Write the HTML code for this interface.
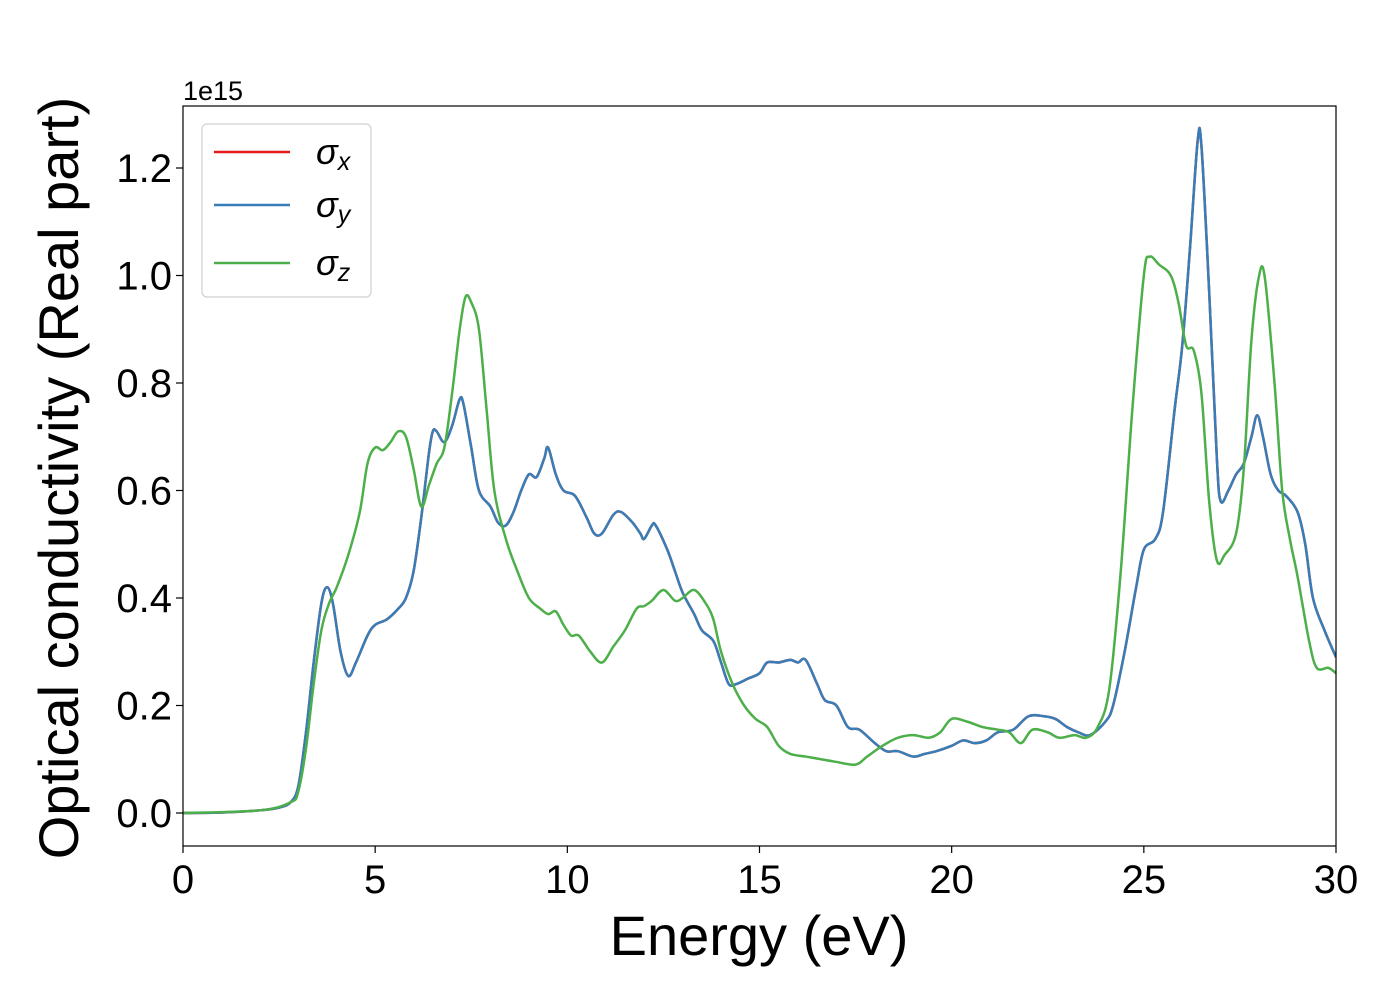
<!DOCTYPE html>
<html><head><meta charset="utf-8">
<style>
body{margin:0;background:#fff;}
svg{display:block;font-family:"Liberation Sans","DejaVu Sans",sans-serif;}
</style></head>
<body>
<svg id="chart" width="1400" height="1000" xmlns="http://www.w3.org/2000/svg">
<g id="plot"></g>
</svg>
<script>
const xTicks=[0,5,10,15,20,25,30];
const yTicks=[0,0.2,0.4,0.6,0.8,1.0,1.2];
const yTickLabels=["0.0","0.2","0.4","0.6","0.8","1.0","1.2"];
const energyXY=[0,1,2,2.5,2.8,3.0,3.2,3.4,3.6,3.75,3.9,4.1,4.3,4.5,4.8,5.0,5.3,5.6,5.8,6.0,6.2,6.4,6.5,6.6,6.8,7.0,7.2,7.3,7.5,7.7,8.0,8.2,8.4,8.6,8.8,9.0,9.2,9.4,9.5,9.7,9.9,10.2,10.5,10.7,10.9,11.2,11.4,11.7,11.9,12.0,12.2,12.3,12.6,12.8,13.0,13.3,13.5,13.8,14.0,14.2,14.4,14.7,15.0,15.2,15.5,15.8,16.0,16.2,16.5,16.7,17.0,17.3,17.6,18.0,18.3,18.6,19.0,19.3,19.6,20.0,20.3,20.6,20.9,21.2,21.6,22.0,22.4,22.7,23.0,23.3,23.6,24.0,24.2,24.5,24.8,25.0,25.3,25.5,25.8,26.0,26.2,26.4,26.5,26.7,26.9,27.0,27.2,27.4,27.6,27.8,27.95,28.1,28.3,28.5,28.7,29.0,29.2,29.4,29.7,30.0];
const sigmaXY=[0,0.001,0.005,0.01,0.02,0.05,0.15,0.28,0.39,0.42,0.39,0.3,0.255,0.28,0.33,0.35,0.36,0.38,0.40,0.45,0.55,0.67,0.71,0.71,0.69,0.72,0.77,0.76,0.68,0.60,0.57,0.54,0.535,0.56,0.6,0.63,0.625,0.66,0.68,0.63,0.60,0.59,0.55,0.52,0.52,0.555,0.56,0.54,0.52,0.51,0.535,0.535,0.49,0.45,0.41,0.37,0.34,0.32,0.28,0.24,0.24,0.25,0.26,0.28,0.28,0.285,0.28,0.285,0.24,0.21,0.2,0.16,0.155,0.13,0.115,0.115,0.105,0.11,0.115,0.125,0.135,0.13,0.135,0.15,0.155,0.18,0.18,0.175,0.16,0.15,0.145,0.17,0.2,0.3,0.42,0.49,0.51,0.56,0.75,0.87,1.05,1.25,1.24,0.97,0.66,0.58,0.6,0.63,0.65,0.7,0.74,0.7,0.63,0.6,0.59,0.56,0.5,0.4,0.34,0.29];
const energyZ=[0,2,2.8,3.0,3.2,3.4,3.6,3.8,4.0,4.3,4.6,4.8,5.0,5.2,5.4,5.6,5.8,6.0,6.2,6.4,6.6,6.8,7.0,7.2,7.35,7.5,7.7,7.9,8.1,8.4,8.7,9.0,9.3,9.5,9.7,9.9,10.1,10.3,10.6,10.9,11.2,11.5,11.8,12.0,12.2,12.5,12.8,13.0,13.3,13.6,13.8,14.0,14.3,14.6,14.9,15.2,15.5,15.8,16.2,16.6,17.0,17.5,17.8,18.2,18.6,19.0,19.4,19.7,20.0,20.4,20.8,21.2,21.5,21.8,22.1,22.5,22.8,23.2,23.5,23.8,24.1,24.4,24.7,25.0,25.15,25.4,25.7,25.9,26.1,26.3,26.5,26.7,26.9,27.1,27.4,27.6,27.8,28.0,28.15,28.4,28.6,28.8,29.0,29.3,29.5,29.8,30.0];
const sigmaZ=[0,0.005,0.02,0.04,0.12,0.24,0.34,0.39,0.42,0.48,0.56,0.65,0.68,0.675,0.69,0.71,0.70,0.64,0.57,0.61,0.65,0.68,0.78,0.9,0.96,0.95,0.9,0.75,0.6,0.51,0.45,0.4,0.38,0.37,0.375,0.35,0.33,0.33,0.3,0.28,0.31,0.34,0.38,0.385,0.395,0.415,0.395,0.40,0.415,0.39,0.36,0.3,0.24,0.2,0.175,0.16,0.125,0.11,0.105,0.1,0.095,0.09,0.105,0.125,0.14,0.145,0.14,0.15,0.175,0.17,0.16,0.155,0.15,0.13,0.155,0.15,0.14,0.145,0.14,0.16,0.23,0.45,0.75,1.0,1.035,1.02,1.0,0.95,0.87,0.86,0.78,0.58,0.47,0.48,0.52,0.64,0.88,1.0,0.995,0.8,0.6,0.51,0.44,0.32,0.27,0.27,0.26];

const L=183,R=1336,T=106,B=846;
const X=v=>L+(v-0)/30*(R-L);
const Y=v=>813-v/1.2*(813-168);
const NS="http://www.w3.org/2000/svg";
const svg=document.getElementById('chart');
const plot=document.getElementById('plot');
function mk(tag,attrs,parent){const e=document.createElementNS(NS,tag);for(const k in attrs)e.setAttribute(k,attrs[k]);(parent||svg).appendChild(e);return e;}
function smoothPath(xs,ys){
  const p=xs.map((x,i)=>[X(x),Y(ys[i])]);
  let d=`M${p[0][0]},${p[0][1]}`;
  for(let i=0;i<p.length-1;i++){
    const p0=p[i-1]||p[i],p1=p[i],p2=p[i+1],p3=p[i+2]||p2;
    const c1=[p1[0]+(p2[0]-p0[0])/6,p1[1]+(p2[1]-p0[1])/6];
    const c2=[p2[0]-(p3[0]-p1[0])/6,p2[1]-(p3[1]-p1[1])/6];
    d+=` C${c1[0]},${c1[1]} ${c2[0]},${c2[1]} ${p2[0]},${p2[1]}`;
  }
  return d;
}
const cp=mk('clipPath',{id:'clip'});mk('rect',{x:L,y:T,width:R-L,height:B-T},cp);
const series=[[energyXY,sigmaXY,'#e41a1c','series-sigma-x'],[energyXY,sigmaXY,'#377eb8','series-sigma-y'],[energyZ,sigmaZ,'#4daf4a','series-sigma-z']];
series.forEach(s=>{
  const p=mk('path',{d:smoothPath(s[0],s[1]),fill:'none',stroke:s[2],'stroke-width':2.5,'clip-path':'url(#clip)'},plot);
  
  
});
const frame=mk('rect',{x:L,y:T,width:R-L,height:B-T,fill:'none',stroke:'#000','stroke-width':1.2});


xTicks.forEach(v=>{
  const t=mk('line',{x1:X(v),x2:X(v),y1:B,y2:B+7,stroke:'#000','stroke-width':1.2});
  
  
  const tx=mk('text',{x:X(v),y:B+47,'text-anchor':'middle','font-size':40});
  tx.textContent=v;
  
  
});
yTicks.forEach((v,i)=>{
  const t=mk('line',{x1:L-7,x2:L,y1:Y(v),y2:Y(v),stroke:'#000','stroke-width':1.2});
  
  
  const tx=mk('text',{x:L-11,y:Y(v)+14,'text-anchor':'end','font-size':40});
  tx.textContent=yTickLabels[i];
  
  
});
</script>
<svg width="0" height="0"></svg>
<div style="position:absolute;left:0;top:0;width:1400px;height:1000px;pointer-events:none">
<svg width="1400" height="1000" xmlns="http://www.w3.org/2000/svg" style="font-family:'Liberation Sans','DejaVu Sans',sans-serif">
<text x="183" y="100" font-size="27">1e15</text>
<text x="759" y="955" text-anchor="middle" font-size="56">Energy (eV)</text>
<text transform="translate(78,478) rotate(-90)" text-anchor="middle" font-size="56">Optical conductivity (Real part)</text>
<g>
<rect x="202" y="124" width="169" height="173" rx="5" fill="#fff" fill-opacity="0.8" stroke="#d0d0d0" stroke-width="1.2"/>
<line x1="214" x2="290" y1="152" y2="152" stroke="#e41a1c" stroke-width="2.5"/>
<line x1="214" x2="290" y1="205" y2="205" stroke="#377eb8" stroke-width="2.5"/>
<line x1="214" x2="290" y1="263" y2="263" stroke="#4daf4a" stroke-width="2.5"/>
<text x="316" y="164" font-size="36" font-style="italic">σ<tspan font-size="25" dy="6">x</tspan></text>
<text x="316" y="217" font-size="36" font-style="italic">σ<tspan font-size="25" dy="6">y</tspan></text>
<text x="316" y="275" font-size="36" font-style="italic">σ<tspan font-size="25" dy="6">z</tspan></text>
</g>
</svg>
</div>
</body></html>
